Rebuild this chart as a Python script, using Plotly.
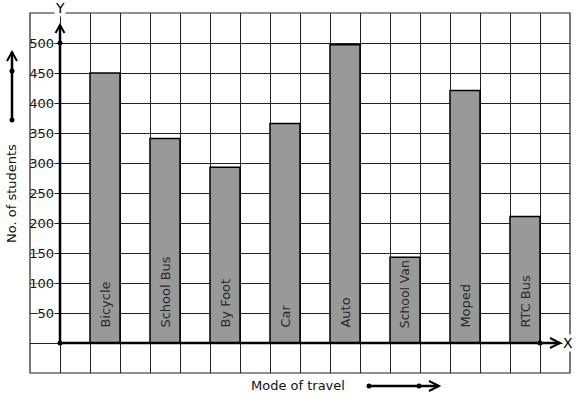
import plotly.graph_objects as go

modes = ["Bicycle", "School Bus", "By Foot", "Car", "Auto", "School Van", "Moped", "RTC Bus"]
students = [450, 341, 293, 366, 497, 143, 421, 211]
y_tick_vals = [50, 100, 150, 200, 250, 300, 350, 400, 450, 500]
y_title = "No. of students"
x_title = "Mode of travel"

FONT = "DejaVu Sans"
xpos = list(range(len(modes)))

fig = go.Figure()
fig.add_trace(go.Bar(
    x=xpos, y=students, width=0.5,
    marker=dict(color="#999999", line=dict(color="#000000", width=1.5)),
    text=modes, texttemplate="\u00a0\u00a0\u00a0%{text}", textposition="inside", textangle=-90,
    insidetextanchor="start",
    textfont=dict(family=FONT, size=13, color="#2a2a2a"),
    hoverinfo="skip",
))

grid_vals = list(range(-50, 551, 50))
grid_text = [str(v) if v in y_tick_vals else "" for v in grid_vals]

shapes = []
shapes.append(dict(type="rect", xref="paper", yref="paper", x0=0, y0=0, x1=1, y1=1,
                   line=dict(color="#222222", width=1.2), layer="above"))
ax_line = dict(color="#000000", width=2.5)
shapes.append(dict(type="path", xref="x", yref="y", xsizemode="pixel", ysizemode="pixel",
                   xanchor=-0.75, yanchor=0, path="M0,0 L0,318", line=ax_line, layer="above"))
shapes.append(dict(type="path", xref="x", yref="y", xsizemode="pixel", ysizemode="pixel",
                   xanchor=-0.75, yanchor=0, path="M-4.5,310 L0,318 L4.5,310", line=dict(color="#000", width=2), layer="above"))
shapes.append(dict(type="path", xref="x", yref="y", xsizemode="pixel", ysizemode="pixel",
                   xanchor=-0.75, yanchor=0, path="M0,0 L500,0", line=ax_line, layer="above"))
shapes.append(dict(type="path", xref="x", yref="y", xsizemode="pixel", ysizemode="pixel",
                   xanchor=-0.75, yanchor=0, path="M490,5 L500,0 L490,-5", line=dict(color="#000", width=2), layer="above"))

def dot(xref, yref, xa, ya, dx=0, dy=0):
    return dict(type="circle", xref=xref, yref=yref, xsizemode="pixel", ysizemode="pixel",
                xanchor=xa, yanchor=ya, x0=dx-2.5, x1=dx+2.5, y0=dy-2.5, y1=dy+2.5,
                fillcolor="#000", line=dict(color="#000", width=0), layer="above")

shapes.append(dot("x", "y", -0.75, 0))
shapes.append(dot("x", "y", -0.75, 500))
shapes.append(dot("x", "y", -0.75, 0, dx=480))

la_x, la_y = (12 - 30) / 540, (373 - 120) / 360
shapes.append(dict(type="path", xref="paper", yref="paper", xsizemode="pixel", ysizemode="pixel",
                   xanchor=la_x, yanchor=la_y, path="M0,0 L0,68", line=dict(color="#000", width=2.5)))
shapes.append(dict(type="path", xref="paper", yref="paper", xsizemode="pixel", ysizemode="pixel",
                   xanchor=la_x, yanchor=la_y, path="M-5,59 L0,68 L5,59", line=dict(color="#000", width=2)))
shapes.append(dot("paper", "paper", la_x, la_y))
shapes.append(dot("paper", "paper", la_x, la_y, dy=49))

ba_x, ba_y = (369 - 30) / 540, (373 - 386) / 360
shapes.append(dict(type="path", xref="paper", yref="paper", xsizemode="pixel", ysizemode="pixel",
                   xanchor=ba_x, yanchor=ba_y, path="M0,0 L70,0", line=dict(color="#000", width=2.5)))
shapes.append(dict(type="path", xref="paper", yref="paper", xsizemode="pixel", ysizemode="pixel",
                   xanchor=ba_x, yanchor=ba_y, path="M60,5 L70,0 L60,-5", line=dict(color="#000", width=2)))
shapes.append(dot("paper", "paper", ba_x, ba_y))
shapes.append(dot("paper", "paper", ba_x, ba_y, dx=50))

annotations = [
    dict(text="Y", xref="x", yref="paper", x=-0.75, y=(373 - 8) / 360, showarrow=False,
         xanchor="center", yanchor="middle",
         font=dict(family=FONT, size=14, color="#000"), bgcolor="white", borderpad=0),
    dict(text="X", xref="paper", yref="y", x=(568 - 30) / 540, y=0, showarrow=False,
         xanchor="center", yanchor="middle",
         font=dict(family=FONT, size=14, color="#000"), bgcolor="white", borderpad=0),
    dict(text=y_title, xref="paper", yref="paper", x=(11 - 30) / 540, y=(373 - 194) / 360,
         xanchor="center", yanchor="middle",
         textangle=-90, showarrow=False, font=dict(family=FONT, size=13, color="#111")),
    dict(text=x_title, xref="paper", yref="paper", x=(298 - 30) / 540, y=(373 - 385) / 360,
         xanchor="center", yanchor="middle",
         showarrow=False, font=dict(family=FONT, size=13, color="#111")),
]

fig.update_layout(
    width=577, height=399,
    margin=dict(l=30, r=7, t=13, b=26),
    paper_bgcolor="white", plot_bgcolor="white",
    showlegend=False,
    font=dict(family=FONT),
    xaxis=dict(range=[-1.25, 7.75], tickmode="linear", tick0=0.25, dtick=0.5,
               showgrid=True, gridcolor="#222222", gridwidth=1, showticklabels=False,
               ticks="", zeroline=False, showline=False, fixedrange=True),
    yaxis=dict(range=[-50, 550], tickmode="array", tickvals=grid_vals, ticktext=grid_text,
               showgrid=True, gridcolor="#222222", gridwidth=1, zeroline=False, showline=False,
               anchor="free", position=30 / 540, ticks="", ticklabelstandoff=6,
               tickfont=dict(family=FONT, size=13, color="#111",
                             shadow="white 0 0 2px, white 0 0 2px, white 0 0 3px, white 0 0 3px"),
               fixedrange=True),
    shapes=shapes,
    annotations=annotations,
)

fig.write_html("out.html")
